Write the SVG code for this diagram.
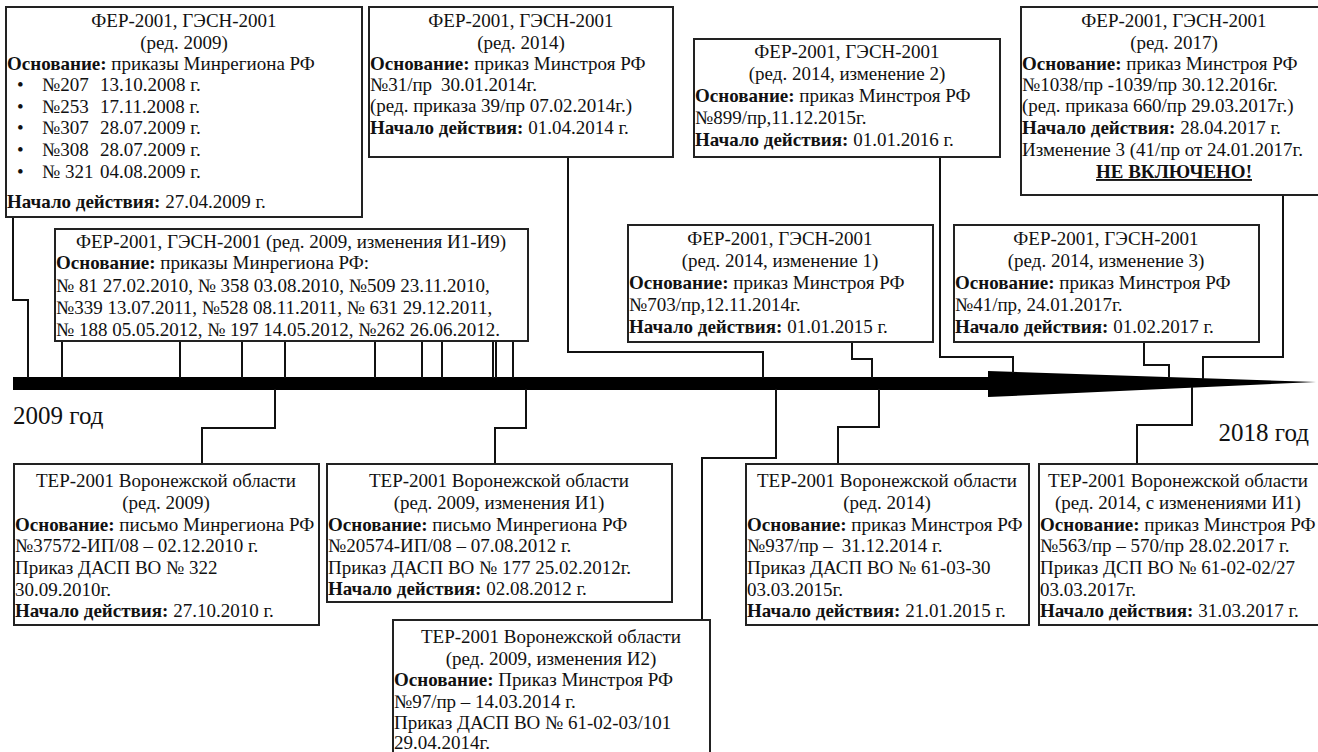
<svg xmlns="http://www.w3.org/2000/svg" width="1318" height="752" viewBox="0 0 1318 752">
<style>
.t{font-family:"Liberation Serif","Times New Roman",serif;font-size:19px;fill:#111}
.c{text-anchor:middle}
.b{font-weight:bold}
.y{font-family:"Liberation Serif","Times New Roman",serif;font-size:25px;fill:#111}
.box{fill:#fff;stroke:#222;stroke-width:2}
.ln{fill:none;stroke:#111;stroke-width:2}
</style>
<rect width="1318" height="752" fill="#fff"/>
<g id="timeline">
<rect x="13" y="377" width="977" height="13" fill="#000"/>
<polygon points="988,371 1316,382 988,397" fill="#000"/>
<text class="y" x="13" y="424">2009 год</text>
<text class="y" x="1309" y="441" text-anchor="end">2018 год</text>
</g>
<g id="connectors">
<polyline class="ln" points="13,217 13,300 28,300 28,378"/>
<path class="ln" d="M62,341V378M180,341V378M242,341V378M285,341V378M375,341V378M422,341V378M442,341V378M493,341V378M496,341V378M513,341V378"/>
<polyline class="ln" points="568,157 568,352 763,352 763,378"/>
<polyline class="ln" points="940,157 940,357 1013,357 1013,373"/>
<polyline class="ln" points="1283,195 1283,357 1203,357 1203,379"/>
<polyline class="ln" points="852,342 852,359 872,359 872,378"/>
<polyline class="ln" points="1144,342 1144,365 1169,365 1169,378"/>
<polyline class="ln" points="275,389 275,428 202,428 202,464"/>
<polyline class="ln" points="526,389 526,428 495,428 495,464"/>
<polyline class="ln" points="776,389 776,458 702,458 702,620"/>
<polyline class="ln" points="879,389 879,427 838,427 838,464"/>
<polyline class="ln" points="1192,387 1192,425 1137,425 1137,464"/>
</g>
<g id="fer2009">
<rect class="box" x="6" y="7" width="356" height="210"/>
<text class="t c" x="184" y="27">ФЕР-2001, ГЭСН-2001</text>
<text class="t c" x="184" y="49">(ред. 2009)</text>
<text class="t" x="7" y="70"><tspan class="b">Основание:</tspan> приказы Минрегиона РФ</text>
<text class="t" x="17" y="91">•</text><text class="t" x="42" y="91">№207</text><text class="t" x="100" y="91">13.10.2008 г.</text>
<text class="t" x="17" y="113">•</text><text class="t" x="42" y="113">№253</text><text class="t" x="100" y="113">17.11.2008 г.</text>
<text class="t" x="17" y="134">•</text><text class="t" x="42" y="134">№307</text><text class="t" x="100" y="134">28.07.2009 г.</text>
<text class="t" x="17" y="156">•</text><text class="t" x="42" y="156">№308</text><text class="t" x="100" y="156">28.07.2009 г.</text>
<text class="t" x="17" y="178">•</text><text class="t" x="42" y="178">№ 321</text><text class="t" x="100" y="178">04.08.2009 г.</text>
<text class="t" x="7" y="208"><tspan class="b">Начало действия:</tspan> 27.04.2009 г.</text>
</g>
<g id="fer2009izm">
<rect class="box" x="55" y="229" width="473" height="112"/>
<text class="t c" x="291" y="248">ФЕР-2001, ГЭСН-2001 (ред. 2009, изменения И1-И9)</text>
<text class="t" x="56" y="269"><tspan class="b">Основание:</tspan> приказы Минрегиона РФ:</text>
<text class="t" x="56" y="292">№ 81 27.02.2010, № 358 03.08.2010, №509 23.11.2010,</text>
<text class="t" x="56" y="314">№339 13.07.2011, №528 08.11.2011, № 631 29.12.2011,</text>
<text class="t" x="56" y="336">№ 188 05.05.2012, № 197 14.05.2012, №262 26.06.2012.</text>
</g>
<g id="fer2014">
<rect class="box" x="369" y="7" width="304" height="150"/>
<text class="t c" x="521" y="27">ФЕР-2001, ГЭСН-2001</text>
<text class="t c" x="521" y="49">(ред. 2014)</text>
<text class="t" x="370" y="70"><tspan class="b">Основание:</tspan> приказ Минстроя РФ</text>
<text class="t" x="370" y="91">№31/пр<tspan dx="9">30.01.2014г.</tspan></text>
<text class="t" x="370" y="112">(ред. приказа 39/пр 07.02.2014г.)</text>
<text class="t" x="370" y="134"><tspan class="b">Начало действия:</tspan> 01.04.2014 г.</text>
</g>
<g id="fer2014izm2">
<rect class="box" x="694" y="39" width="306" height="118"/>
<text class="t c" x="847" y="58">ФЕР-2001, ГЭСН-2001</text>
<text class="t c" x="847" y="80">(ред. 2014, изменение 2)</text>
<text class="t" x="695" y="102"><tspan class="b">Основание:</tspan> приказ Минстроя РФ</text>
<text class="t" x="695" y="124">№899/пр,11.12.2015г.</text>
<text class="t" x="695" y="146"><tspan class="b">Начало действия:</tspan> 01.01.2016 г.</text>
</g>
<g id="fer2017">
<rect class="box" x="1021" y="7" width="310" height="188"/>
<text class="t c" x="1174" y="27">ФЕР-2001, ГЭСН-2001</text>
<text class="t c" x="1174" y="49">(ред. 2017)</text>
<text class="t" x="1022" y="70"><tspan class="b">Основание:</tspan> приказ Минстроя РФ</text>
<text class="t" x="1022" y="91">№1038/пр -1039/пр 30.12.2016г.</text>
<text class="t" x="1022" y="112">(ред. приказа 660/пр 29.03.2017г.)</text>
<text class="t" x="1022" y="134"><tspan class="b">Начало действия:</tspan> 28.04.2017 г.</text>
<text class="t" x="1022" y="156">Изменение 3 (41/пр от 24.01.2017г.</text>
<text class="t c b" x="1174" y="178" text-decoration="underline">НЕ ВКЛЮЧЕНО!</text>
</g>
<g id="fer2014izm1">
<rect class="box" x="628" y="225" width="305" height="117"/>
<text class="t c" x="780" y="245">ФЕР-2001, ГЭСН-2001</text>
<text class="t c" x="780" y="267">(ред. 2014, изменение 1)</text>
<text class="t" x="629" y="289"><tspan class="b">Основание:</tspan> приказ Минстроя РФ</text>
<text class="t" x="629" y="311">№703/пр,12.11.2014г.</text>
<text class="t" x="629" y="333"><tspan class="b">Начало действия:</tspan> 01.01.2015 г.</text>
</g>
<g id="fer2014izm3">
<rect class="box" x="954" y="225" width="305" height="117"/>
<text class="t c" x="1106" y="245">ФЕР-2001, ГЭСН-2001</text>
<text class="t c" x="1106" y="267">(ред. 2014, изменение 3)</text>
<text class="t" x="955" y="289"><tspan class="b">Основание:</tspan> приказ Минстроя РФ</text>
<text class="t" x="955" y="311">№41/пр, 24.01.2017г.</text>
<text class="t" x="955" y="333"><tspan class="b">Начало действия:</tspan> 01.02.2017 г.</text>
</g>
<g id="ter2009">
<rect class="box" x="14" y="464" width="305" height="161"/>
<text class="t c" x="166" y="487">ТЕР-2001 Воронежской области</text>
<text class="t c" x="166" y="509">(ред. 2009)</text>
<text class="t" x="15" y="531"><tspan class="b">Основание:</tspan> письмо Минрегиона РФ</text>
<text class="t" x="15" y="552">№37572-ИП/08 – 02.12.2010 г.</text>
<text class="t" x="15" y="574">Приказ ДАСП ВО № 322</text>
<text class="t" x="15" y="596">30.09.2010г.</text>
<text class="t" x="15" y="617"><tspan class="b">Начало действия:</tspan> 27.10.2010 г.</text>
</g>
<g id="ter2009i1">
<rect class="box" x="327" y="464" width="345" height="138"/>
<text class="t c" x="499" y="487">ТЕР-2001 Воронежской области</text>
<text class="t c" x="499" y="509">(ред. 2009, изменения И1)</text>
<text class="t" x="328" y="531"><tspan class="b">Основание:</tspan> письмо Минрегиона РФ</text>
<text class="t" x="328" y="552">№20574-ИП/08 – 07.08.2012 г.</text>
<text class="t" x="328" y="574">Приказ ДАСП ВО № 177 25.02.2012г.</text>
<text class="t" x="328" y="595"><tspan class="b">Начало действия:</tspan> 02.08.2012 г.</text>
</g>
<g id="ter2009i2">
<rect class="box" x="393" y="620" width="317" height="150"/>
<text class="t c" x="551" y="643">ТЕР-2001 Воронежской области</text>
<text class="t c" x="551" y="665">(ред. 2009, изменения И2)</text>
<text class="t" x="394" y="686"><tspan class="b">Основание:</tspan> Приказ Минстроя РФ</text>
<text class="t" x="394" y="708">№97/пр – 14.03.2014 г.</text>
<text class="t" x="394" y="729">Приказ ДАСП ВО № 61-02-03/101</text>
<text class="t" x="394" y="749">29.04.2014г.</text>
</g>
<g id="ter2014">
<rect class="box" x="746" y="464" width="283" height="161"/>
<text class="t c" x="887" y="487">ТЕР-2001 Воронежской области</text>
<text class="t c" x="887" y="509">(ред. 2014)</text>
<text class="t" x="747" y="531"><tspan class="b">Основание:</tspan> приказ Минстроя РФ</text>
<text class="t" x="747" y="552">№937/пр –<tspan dx="9">31.12.2014 г.</tspan></text>
<text class="t" x="747" y="574">Приказ ДАСП ВО № 61-03-30</text>
<text class="t" x="747" y="596">03.03.2015г.</text>
<text class="t" x="747" y="617"><tspan class="b">Начало действия:</tspan> 21.01.2015 г.</text>
</g>
<g id="ter2014i1">
<rect class="box" x="1039" y="464" width="290" height="161"/>
<text class="t c" x="1178" y="487">ТЕР-2001 Воронежской области</text>
<text class="t c" x="1178" y="509">(ред. 2014, с изменениями И1)</text>
<text class="t" x="1040" y="531"><tspan class="b">Основание:</tspan> приказ Минстроя РФ</text>
<text class="t" x="1040" y="552">№563/пр – 570/пр 28.02.2017 г.</text>
<text class="t" x="1040" y="574">Приказ ДСП ВО № 61-02-02/27</text>
<text class="t" x="1040" y="596">03.03.2017г.</text>
<text class="t" x="1040" y="617"><tspan class="b">Начало действия:</tspan> 31.03.2017 г.</text>
</g>
</svg>
